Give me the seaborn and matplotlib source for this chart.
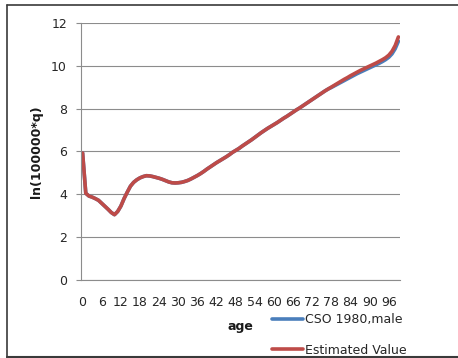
import numpy as np
import pandas as pd
import matplotlib
matplotlib.use("Agg")
import matplotlib.pyplot as plt
from matplotlib.lines import Line2D
import seaborn as sns

# ages 0..99
ages = list(range(100))

# ln(100000*q) from the CSO 1980 male table
cso_1980_male = [
    5.93, 4.05, 3.92, 3.87, 3.80, 3.72, 3.58, 3.44, 3.30, 3.15,
    3.05, 3.20, 3.45, 3.80, 4.10, 4.38, 4.56, 4.68, 4.77, 4.83,
    4.87, 4.86, 4.83, 4.79, 4.75, 4.70, 4.64, 4.58, 4.54, 4.53,
    4.54, 4.56, 4.60, 4.65, 4.72, 4.80, 4.88, 4.97, 5.07, 5.18,
    5.28, 5.38, 5.48, 5.57, 5.66, 5.75, 5.85, 5.96, 6.05, 6.14,
    6.25, 6.35, 6.45, 6.55, 6.66, 6.77, 6.88, 6.98, 7.08, 7.17,
    7.26, 7.35, 7.45, 7.55, 7.64, 7.74, 7.84, 7.94, 8.03, 8.13,
    8.23, 8.33, 8.43, 8.53, 8.63, 8.73, 8.83, 8.92, 8.99, 9.07,
    9.15, 9.23, 9.31, 9.39, 9.47, 9.55, 9.63, 9.70, 9.77, 9.84,
    9.91, 9.98, 10.05, 10.12, 10.20, 10.29, 10.40, 10.56, 10.80, 11.15,
]

# ln(100000*q) of the fitted model
estimated_value = [
    5.93, 4.05, 3.92, 3.87, 3.80, 3.72, 3.58, 3.44, 3.30, 3.15,
    3.05, 3.20, 3.45, 3.80, 4.10, 4.38, 4.56, 4.68, 4.77, 4.83,
    4.87, 4.86, 4.83, 4.79, 4.75, 4.70, 4.64, 4.58, 4.54, 4.53,
    4.54, 4.56, 4.60, 4.65, 4.72, 4.80, 4.88, 4.97, 5.07, 5.18,
    5.28, 5.38, 5.48, 5.57, 5.66, 5.75, 5.85, 5.96, 6.05, 6.14,
    6.25, 6.35, 6.45, 6.55, 6.66, 6.77, 6.88, 6.98, 7.08, 7.17,
    7.26, 7.35, 7.45, 7.55, 7.64, 7.74, 7.84, 7.94, 8.03, 8.13,
    8.23, 8.33, 8.43, 8.53, 8.63, 8.73, 8.83, 8.92, 9.01, 9.10,
    9.19, 9.28, 9.37, 9.45, 9.54, 9.62, 9.70, 9.78, 9.85, 9.92,
    9.99, 10.06, 10.13, 10.21, 10.29, 10.38, 10.50, 10.68, 10.95, 11.35,
]

series_names = ["CSO 1980,male", "Estimated Value"]
series_colors = ["#4A7EBB", "#BE4B48"]
x_tick_values = list(range(0, 100, 6))
y_tick_values = [0, 2, 4, 6, 8, 10, 12]

df = pd.DataFrame({
    "age": ages * 2,
    "value": cso_1980_male + estimated_value,
    "series": [series_names[0]] * len(ages) + [series_names[1]] * len(ages),
})

sns.set_style("white")
plt.rcParams["font.family"] = ["DejaVu Sans"]

fig = plt.figure(figsize=(4.58, 3.58), dpi=100)
ax = fig.add_axes([81 / 458, 1 - 280 / 358, 319 / 458, 257 / 358])

sns.lineplot(data=df, x="age", y="value", hue="series",
             hue_order=series_names, palette=series_colors,
             linewidth=2.6, ax=ax, legend=False)

grid_color = "#8C8C8C"
ax.set_xlim(-0.5, 99.5)
ax.set_ylim(0, 12)
ax.set_yticks(y_tick_values)
ax.set_xticks(x_tick_values)
ax.set_xticklabels([str(v) for v in x_tick_values])
ax.yaxis.grid(True, color=grid_color, linewidth=0.8)
ax.xaxis.grid(False)
ax.set_axisbelow(True)

for side in ["top", "right"]:
    ax.spines[side].set_visible(False)
for side in ["left", "bottom"]:
    ax.spines[side].set_color(grid_color)
    ax.spines[side].set_linewidth(0.8)

ax.tick_params(axis="y", length=3.6, width=0.8, color=grid_color,
               pad=6.5, labelsize=9, labelcolor="#262626", left=True)
ax.tick_params(axis="x", length=0, pad=11.5, labelsize=9, labelcolor="#262626")

ax.set_xlabel("age", fontsize=9, fontweight="bold", va="center", color="#1a1a1a")
ax.xaxis.set_label_coords(0.5, -0.182)
ax.set_ylabel("ln(100000*q)", fontsize=9, fontweight="bold", va="center",
              color="#1a1a1a")
ax.yaxis.set_label_coords(-0.139, 0.5)

handles = [Line2D([0], [0], color=c, linewidth=2.6) for c in series_colors]
fig.legend(handles, series_names, loc="upper left",
           bbox_to_anchor=(272 / 458, 1 - 313 / 358), bbox_transform=fig.transFigure,
           frameon=False, fontsize=9, handlelength=2.5, handletextpad=0.15,
           labelspacing=1.4, borderpad=0, borderaxespad=0)

# outer frame of the chart
frame_color = "#3A3A3A"
fig.add_artist(Line2D([7 / 458, 7 / 458], [0, 1 - 5 / 358], color=frame_color,
                      linewidth=1.2, transform=fig.transFigure))
fig.add_artist(Line2D([7 / 458, 1], [1 - 5 / 358, 1 - 5 / 358], color=frame_color,
                      linewidth=1.2, transform=fig.transFigure))
fig.add_artist(Line2D([7 / 458, 1], [1 - 357 / 358, 1 - 357 / 358], color=frame_color,
                      linewidth=1.5, transform=fig.transFigure))

fig.savefig("out.png", dpi=100)
